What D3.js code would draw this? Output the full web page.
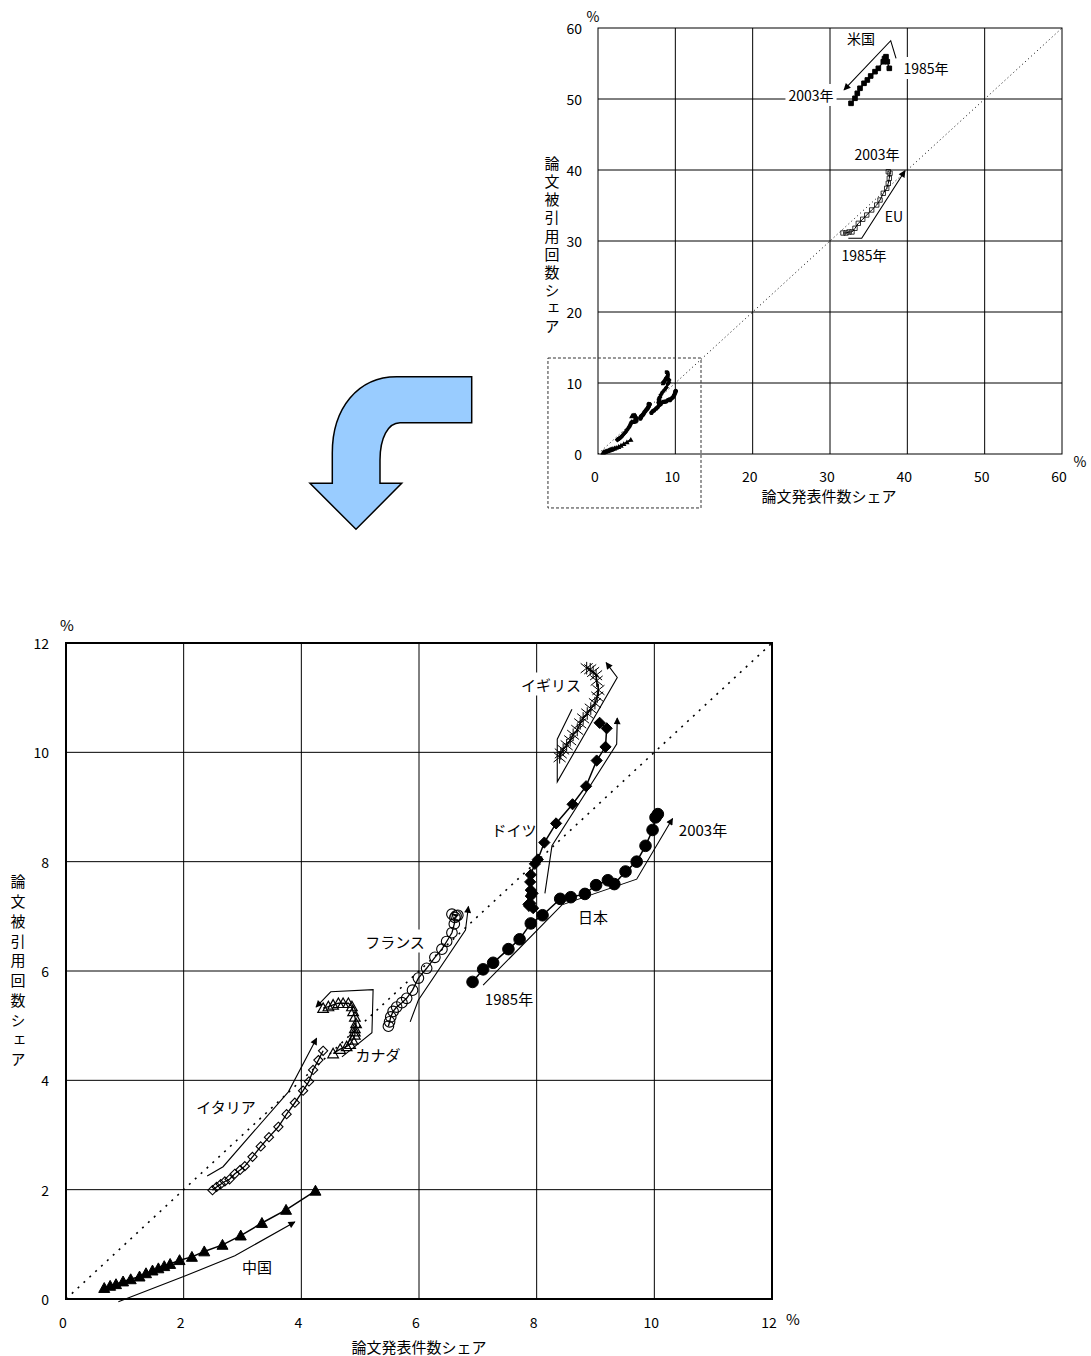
<!DOCTYPE html>
<html><head><meta charset="utf-8">
<script src="https://cdn.jsdelivr.net/npm/d3@7"></script>
<style>
body{margin:0;background:#fff}
svg{display:block}
text{font-family:"Noto Sans CJK JP","Noto Sans",sans-serif;fill:#000}
</style>
</head><body>
<svg id="c" width="1091" height="1356"></svg>
<script>
// ---------------- data (share %, 1985 -> 2003) ----------------
const japanX   = [6.91,7.09,7.26,7.52,7.71,7.90,8.10,8.40,8.58,8.82,9.01,9.21,9.32,9.51,9.70,9.85,9.97,10.02,10.06];
const japanY   = [5.80,6.03,6.15,6.40,6.58,6.87,7.02,7.32,7.35,7.41,7.57,7.66,7.59,7.82,8.00,8.29,8.58,8.81,8.87];
const germanyX = [7.87,7.94,7.86,7.89,7.90,7.93,7.90,7.89,7.90,7.97,8.02,8.13,8.33,8.61,8.84,9.02,9.17,9.19,9.07];
const germanyY = [7.19,7.15,7.22,7.24,7.37,7.42,7.48,7.63,7.76,7.96,8.04,8.35,8.70,9.05,9.38,9.85,10.10,10.44,10.54];
const ukX      = [8.39,8.41,8.45,8.51,8.57,8.62,8.69,8.74,8.79,8.86,8.92,8.99,9.03,9.05,9.02,9.01,8.96,8.91,8.85];
const ukY      = [9.91,9.98,10.05,10.13,10.22,10.32,10.41,10.53,10.62,10.71,10.80,10.90,11.02,11.14,11.31,11.41,11.47,11.52,11.54];
const franceX  = [5.48,5.50,5.52,5.56,5.62,5.71,5.79,5.89,5.99,6.13,6.27,6.39,6.47,6.56,6.60,6.61,6.66,6.56,6.63];
const franceY  = [4.99,5.07,5.16,5.26,5.34,5.42,5.50,5.65,5.87,6.05,6.25,6.40,6.54,6.70,6.86,6.98,7.02,7.04,7.01];
const canadaX  = [4.54,4.66,4.77,4.83,4.87,4.91,4.91,4.91,4.93,4.91,4.88,4.86,4.80,4.71,4.63,4.54,4.46,4.37];
const canadaY  = [4.49,4.57,4.62,4.66,4.74,4.83,4.89,4.95,5.04,5.16,5.26,5.35,5.41,5.41,5.41,5.38,5.35,5.32];
const italyX   = [2.49,2.56,2.63,2.70,2.78,2.87,2.96,3.04,3.17,3.31,3.45,3.61,3.75,3.89,4.03,4.13,4.20,4.29,4.37];
const italyY   = [1.99,2.05,2.10,2.15,2.19,2.29,2.36,2.43,2.60,2.79,2.96,3.15,3.38,3.59,3.81,3.98,4.19,4.37,4.54];
const chinaX   = [0.65,0.75,0.85,0.97,1.10,1.25,1.36,1.47,1.57,1.67,1.77,1.93,2.14,2.35,2.66,2.97,3.33,3.74,4.24];
const chinaY   = [0.20,0.24,0.27,0.32,0.36,0.41,0.47,0.52,0.56,0.60,0.64,0.71,0.77,0.87,0.99,1.16,1.39,1.63,1.98];
const usX      = [37.67,37.41,37.24,37.05,36.89,36.25,35.82,35.26,34.83,34.40,33.88,33.53,33.23,32.72];
const usY      = [54.32,55.25,55.96,55.70,55.25,54.32,53.85,53.24,52.68,52.21,51.51,50.80,50.10,49.39];
const euX      = [31.68,32.07,32.46,32.84,33.23,33.66,34.23,34.75,35.39,36.04,36.47,36.89,37.33,37.54,37.67,37.76,37.54];
const euY      = [31.13,31.13,31.27,31.27,31.79,32.49,33.06,33.66,34.37,35.07,35.77,36.72,37.42,38.13,38.83,39.54,39.76];

// trend arrows (data coordinates)
const ukArrow = [[8.60,10.79],[8.35,10.24],[8.35,9.46],[9.37,11.37],[9.18,11.64]];
const deArrow = [[8.14,7.42],[8.26,8.29],[9.36,10.15],[9.37,10.63]];
const jpArrow = [[7.09,5.74],[8.43,7.21],[9.70,7.68],[10.31,8.79]];
const frArrow = [[5.85,5.07],[5.99,5.47],[6.79,6.75],[6.84,7.18]];
const caArrow = [[4.69,4.43],[5.20,4.87],[5.22,5.66],[4.50,5.62],[4.25,5.34]];
const itArrow = [[2.40,2.25],[2.67,2.42],[3.78,3.79],[4.26,4.77]];
const cnArrow = [[0.89,-0.05],[2.02,0.42],[2.87,0.79],[3.89,1.41]];
const usArrow = [[38.54,55.73],[37.85,58.21],[31.81,51.27]];
const euArrow = [[32.37,30.38],[34.10,30.38],[39.70,39.90]];

const bottomTicks = [0,2,4,6,8,10,12];
const topTicks = [0,10,20,30,40,50,60];
const xTitle = "論文発表件数シェア";
const yTitle = "論文被引用回数シェア";

// ---------------- drawing ----------------
const svg = d3.select("#c");
const defs = svg.append("defs");
defs.append("marker").attr("id","ah").attr("viewBox","0 0 10 10").attr("refX",9).attr("refY",5)
  .attr("markerWidth",9).attr("markerHeight",7).attr("markerUnits","userSpaceOnUse").attr("orient","auto")
  .append("path").attr("d","M0,0 L10,5 L0,10 Z").attr("fill","#000");

const zip = (xs,ys)=>xs.map((x,i)=>[x,ys[i]]);

function markerPath(type, r){
  switch(type){
    case "circle": return d3.symbol(d3.symbolCircle, Math.PI*r*r)();
    case "diamond": return `M0,${-r}L${r},0L0,${r}L${-r},0Z`;
    case "square": return `M${-r},${-r}H${r}V${r}H${-r}Z`;
    case "triangle": return `M0,${-r}L${r},${r*0.8}L${-r},${r*0.8}Z`;
    case "star": return `M${-r},${-r*0.8}L${r},${r*0.8}M${r},${-r*0.8}L${-r},${r*0.8}M0,${-r*1.05}V${r*1.05}`;
  }
}

function drawSeries(g, xs, ys, sx, sy, type, filled, r, lw, mlw){
  const pts = zip(xs,ys);
  g.append("path").attr("d", d3.line().x(d=>sx(d[0])).y(d=>sy(d[1]))(pts))
    .attr("fill","none").attr("stroke","#000").attr("stroke-width",lw);
  g.selectAll(null).data(pts).enter().append("path")
    .attr("transform", d=>`translate(${sx(d[0])},${sy(d[1])})`)
    .attr("d", markerPath(type, r))
    .attr("fill", filled ? "#000" : "none")
    .attr("stroke","#000").attr("stroke-width", mlw);
}

function drawArrow(g, pts, sx, sy){
  g.append("path").attr("d", d3.line().x(d=>sx(d[0])).y(d=>sy(d[1]))(pts))
    .attr("fill","none").attr("stroke","#000").attr("stroke-width",1.1)
    .attr("marker-end","url(#ah)");
}

function label(g, txt, x, y, size, bg, anchor){
  const t = g.append("text").attr("x",x).attr("y",y).attr("font-size",size)
    .attr("text-anchor",anchor||"middle").attr("dominant-baseline","central").text(txt);
  if(bg){
    const b = t.node().getBBox();
    g.insert("rect", function(){return t.node();})
      .attr("x",b.x-3).attr("y",b.y-1).attr("width",b.width+6).attr("height",b.height+2).attr("fill","#fff");
  }
  return t;
}

function vlabel(g, txt, x, yTop, size, spacing){
  g.append("text").attr("x",x).attr("y",yTop).attr("font-size",size)
    .style("writing-mode","vertical-rl").style("text-orientation","upright")
    .style("letter-spacing", spacing+"px").text(txt);
}

function frame(g, sx, sy, ticks, borderW, fs, tickOffX, tickOffY){
  const x0 = sx.range()[0], x1 = sx.range()[1], y0 = sy.range()[0], y1 = sy.range()[1];
  g.selectAll(null).data(ticks.slice(1,-1)).enter().append("line")
    .attr("x1",d=>sx(d)).attr("x2",d=>sx(d)).attr("y1",y1).attr("y2",y0)
    .attr("stroke","#000").attr("stroke-width",1);
  g.selectAll(null).data(ticks.slice(1,-1)).enter().append("line")
    .attr("y1",d=>sy(d)).attr("y2",d=>sy(d)).attr("x1",x0).attr("x2",x1)
    .attr("stroke","#000").attr("stroke-width",1);
  g.append("rect").attr("x",x0).attr("y",y1).attr("width",x1-x0).attr("height",y0-y1)
    .attr("fill","none").attr("stroke","#000").attr("stroke-width",borderW);
  g.selectAll(null).data(ticks).enter().append("text")
    .attr("x",d=>sx(d)-3).attr("y",y0+tickOffY).attr("font-size",fs).attr("text-anchor","middle")
    .attr("dominant-baseline","central").text(d=>d);
  g.selectAll(null).data(ticks).enter().append("text")
    .attr("x",x0-tickOffX).attr("y",d=>sy(d)).attr("font-size",fs).attr("text-anchor","end")
    .attr("dominant-baseline","central").text(d=>d);
}

// ---------- top chart ----------
const tx = d3.scaleLinear().domain([0,60]).range([598,1062]);
const ty = d3.scaleLinear().domain([0,60]).range([454,28]);
const gt = svg.append("g");
frame(gt, tx, ty, topTicks, 1, 14, 16, 22);
gt.append("line").attr("x1",tx(0)).attr("y1",ty(0)).attr("x2",tx(60)).attr("y2",ty(60))
  .attr("stroke","#000").attr("stroke-width",1).attr("stroke-dasharray","1,3");
// dashed zoom box
gt.append("rect").attr("x",tx(-6.47)).attr("y",ty(13.52)).attr("width",tx(13.32)-tx(-6.47)).attr("height",ty(-7.6)-ty(13.52))
  .attr("fill","none").attr("stroke","#333").attr("stroke-width",1).attr("stroke-dasharray","3,2");
label(gt,"%",593,16,14,false);
label(gt,"%",1080,461,14,false);
label(gt,xTitle,829,495,15,false);
vlabel(gt, yTitle, 552, 156, 15, 3.1);

drawSeries(gt, usX, usY, tx, ty, "square", true, 2.3, 1.2, 1);
drawSeries(gt, euX, euY, tx, ty, "square", false, 2.2, 1, 0.8);
[[chinaX,chinaY,"triangle",true],[italyX,italyY,"diamond",false],[canadaX,canadaY,"triangle",false],
 [franceX,franceY,"circle",false],[japanX,japanY,"circle",true],[germanyX,germanyY,"diamond",true],
 [ukX,ukY,"star",false]].forEach(s=>drawSeries(gt,s[0],s[1],tx,ty,s[2],s[3],1.6,2,1.3));
drawArrow(gt, usArrow, tx, ty);
drawArrow(gt, euArrow, tx, ty);
label(gt,"米国",861,38,14,false);
label(gt,"1985年",926,68,14,true);
label(gt,"2003年",811,95,14,true);
label(gt,"2003年",877,154,14,false);
label(gt,"EU",894,216,14,false);
label(gt,"1985年",864,255,14,false);

// ---------- curved blue arrow ----------
svg.append("path")
  .attr("d","M471.7,376.7 L471.7,422.7 L400,422.7 C388,422.7 380,438 380,460 L380,483.3 L401.7,483.3 L356,529.3 L310,483.3 L332.3,483.3 L332.3,453 C332.3,408 358,376.7 396.7,376.7 Z")
  .attr("fill","#99ccff").attr("stroke","#000").attr("stroke-width",1.5);

// ---------- bottom chart ----------
const bx = d3.scaleLinear().domain([0,12]).range([66,772]);
const by = d3.scaleLinear().domain([0,12]).range([1299,643]);
const gb = svg.append("g");
frame(gb, bx, by, bottomTicks, 2, 14, 17, 23);
gb.append("line").attr("x1",bx(0)).attr("y1",by(0)).attr("x2",bx(12)).attr("y2",by(12))
  .attr("stroke","#000").attr("stroke-width",1.6).attr("stroke-dasharray","2,6");
label(gb,"%",67,624,15,false);
label(gb,"%",793,1318,15,false);
label(gb,xTitle,419,1346,15,false);
vlabel(gb, yTitle, 18, 874, 15, 4.8);

// labels with background first (so lines draw over where needed)
label(gb,"イギリス",551,684,15,true);
label(gb,"フランス",395,941,15,true);

drawSeries(gb, chinaX, chinaY, bx, by, "triangle", true, 5.5, 1.5, 1);
drawSeries(gb, italyX, italyY, bx, by, "diamond", false, 4.6, 1.3, 1.1);
drawSeries(gb, canadaX, canadaY, bx, by, "triangle", false, 5.3, 1.3, 1.2);
drawSeries(gb, franceX, franceY, bx, by, "circle", false, 5.3, 1.3, 1.1);
drawSeries(gb, japanX, japanY, bx, by, "circle", true, 5.8, 1.5, 1);
drawSeries(gb, germanyX, germanyY, bx, by, "diamond", true, 5.6, 1.5, 1);
drawSeries(gb, ukX, ukY, bx, by, "star", false, 6, 1.3, 1);

[ukArrow,deArrow,jpArrow,frArrow,caArrow,itArrow,cnArrow].forEach(a=>drawArrow(gb,a,bx,by));

label(gb,"ドイツ",514,829,15,false);
label(gb,"2003年",703,829,15,false);
label(gb,"日本",593,916,15,false);
label(gb,"1985年",509,998,15,false);
label(gb,"カナダ",378,1054,15,false);
label(gb,"イタリア",226,1106,15,false);
label(gb,"中国",257,1266,15,false);
</script>
</body></html>
